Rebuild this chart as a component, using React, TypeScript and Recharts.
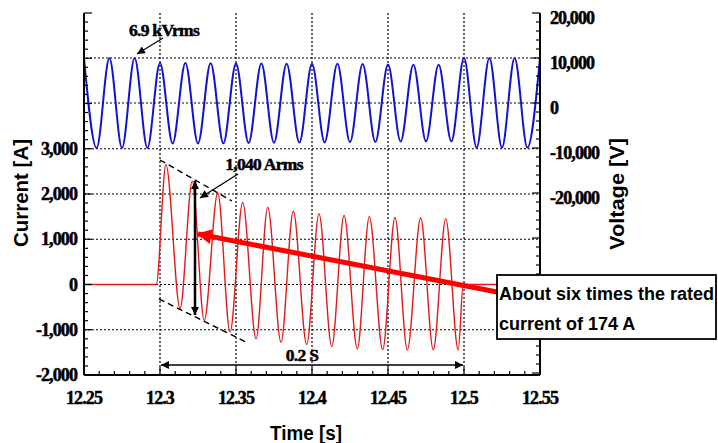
import React from 'react';
import { LineChart, Line, XAxis, YAxis, ReferenceLine } from 'recharts';

// peaks / troughs of each cycle
const voltageTime = [
  12.25, 12.2583, 12.2667, 12.275, 12.2833, 12.2917, 12.3, 12.3083, 12.3167, 12.325,
  12.3333, 12.3417, 12.35, 12.3583, 12.3667, 12.375, 12.3833, 12.3917, 12.4, 12.4083,
  12.4167, 12.425, 12.4333, 12.4417, 12.45, 12.4583, 12.4667, 12.475, 12.4833, 12.4917,
  12.5, 12.5083, 12.5167, 12.525, 12.5333, 12.5417, 12.55,
];
const voltageValue = [
  10000, -10000, 10000, -10000, 10000, -10000, 8900, -9000, 8900, -9000,
  8850, -8950, 8800, -8900, 8800, -8850, 8750, -8800, 8700, -8750,
  8700, -8700, 8650, -8650, 8550, -8550, 8500, -8500, 8500, -8500,
  10000, -9900, 10000, -9900, 10000, -9900, 10000,
];

const currentTime = [
  12.25, 12.2975, 12.3039, 12.3132, 12.3212, 12.3291, 12.338, 12.3461, 12.3544, 12.3632,
  12.3709, 12.3796, 12.3877, 12.3965, 12.4046, 12.413, 12.4211, 12.4298, 12.4377, 12.4465,
  12.4546, 12.4627, 12.4715, 12.4798, 12.488, 12.4962, 12.4995, 12.55,
];
const currentValue = [
  0, 0, 2650, -530, 2280, -795, 2025, -1050, 1815, -1200,
  1705, -1275, 1620, -1325, 1560, -1370, 1525, -1420, 1500, -1440,
  1480, -1445, 1470, -1445, 1450, -1445, 0, 0,
];

const timeTicks = [12.25, 12.3, 12.35, 12.4, 12.45, 12.5, 12.55];
const currentTicks = [-2000, -1000, 0, 1000, 2000, 3000];
const voltageTicks = [-20000, -10000, 0, 10000, 20000];

const voltageData = voltageTime.map((t, k) => ({ t, v: voltageValue[k] }));
const currentData = currentTime.map((t, k) => ({ t, i: currentValue[k] }));

const steps = (from: number, to: number, step: number) => {
  const out: number[] = [];
  for (let v = from; v <= to + step / 2; v += step) out.push(Number(v.toFixed(4)));
  return out;
};
const xMinor = steps(12.25, 12.55, 0.01);
const iMinor = steps(-2000, 6000, 200);
const vMinor = steps(-60000, 20000, 2000);

const serif = '"Liberation Serif", "Times New Roman", serif';
const sans = '"Liberation Sans", Arial, sans-serif';
const near = (a: number, b: number) => Math.abs(a - b) < 1e-6;

const tickText = {
  fontFamily: serif,
  fontWeight: 700,
  fontSize: 18,
  letterSpacing: -0.9,
  fill: '#000',
  stroke: '#000',
  strokeWidth: 0.5,
};

const BottomTick = (p: any) => {
  const { x, y, payload } = p;
  const major = timeTicks.some((t) => near(t, payload.value));
  return (
    <g>
      <line x1={x} x2={x} y1={y} y2={y - (major ? 8 : 4)} stroke="#000" strokeWidth={1.2} />
      {major && (
        <text x={x} y={y + 29} textAnchor="middle" style={tickText}>
          {String(Number(payload.value.toFixed(2)))}
        </text>
      )}
    </g>
  );
};

const TopTick = (p: any) => {
  const { x, y, payload } = p;
  const major = timeTicks.some((t) => near(t, payload.value));
  return <line x1={x} x2={x} y1={y} y2={y + (major ? 8 : 4)} stroke="#000" strokeWidth={1.2} />;
};

const LeftTick = (p: any) => {
  const { x, y, payload } = p;
  const major = payload.value % 1000 === 0;
  const label = currentTicks.includes(payload.value);
  return (
    <g>
      <line x1={x} x2={x + (major ? 8 : 4)} y1={y} y2={y} stroke="#000" strokeWidth={1.2} />
      {label && (
        <text x={x - 7} y={y + 6} textAnchor="end" style={tickText}>
          {payload.value.toLocaleString('en-US')}
        </text>
      )}
    </g>
  );
};

const RightTick = (p: any) => {
  const { x, y, payload } = p;
  const major = payload.value % 10000 === 0;
  const label = voltageTicks.includes(payload.value);
  return (
    <g>
      <line x1={x} x2={x - (major ? 8 : 4)} y1={y} y2={y} stroke="#000" strokeWidth={1.2} />
      {label && (
        <text x={x + 10} y={y + 10.5} textAnchor="start" style={tickText}>
          {payload.value.toLocaleString('en-US')}
        </text>
      )}
    </g>
  );
};

const frame = { stroke: '#000', strokeWidth: 2 };
const gridTimes = [12.3, 12.35, 12.4, 12.45, 12.5];
const gridCurrent = [3000, 2000, 1000, 0, -1000];
const gridVoltage = [10000, 0];

const noteText = { ...tickText, fontSize: 17.5, letterSpacing: -0.7 };
const boxText = { fontFamily: sans, fontWeight: 700, fontSize: 18 };

const Notes = () => (
  <svg
    width={718}
    height={443}
    style={{ position: 'absolute', left: 0, top: 0, pointerEvents: 'none' }}
  >
    <defs>
      <marker id="blk" viewBox="0 0 10 10" refX="10" refY="5" markerUnits="userSpaceOnUse"
        markerWidth="9" markerHeight="8" orient="auto-start-reverse">
        <path d="M0,0 L10,5 L0,10 z" fill="#000" />
      </marker>
      <marker id="red" viewBox="0 0 10 10" refX="9" refY="5" markerUnits="userSpaceOnUse"
        markerWidth="17" markerHeight="15" orient="auto">
        <path d="M0,0 L10,5 L0,10 z" fill="#ff0000" />
      </marker>
    </defs>

    {/* envelope */}
    <line x1={160} y1={160} x2={232} y2={201} stroke="#000" strokeWidth={1.4} strokeDasharray="6 4" />
    <line x1={159} y1={299} x2={248} y2={343} stroke="#000" strokeWidth={1.4} strokeDasharray="6 4" />

    {/* peak-to-peak arrow */}
    <line x1={195} y1={181} x2={195} y2={315} stroke="#000" strokeWidth={2.5}
      markerStart="url(#blk)" markerEnd="url(#blk)" />

    <text x={164} y={36} textAnchor="middle" style={noteText}>6.9 kVrms</text>
    <line x1={163} y1={38} x2={137} y2={54} stroke="#000" strokeWidth={1.3} markerEnd="url(#blk)" />

    <text x={264} y={170} textAnchor="middle" style={noteText}>1,040 Arms</text>
    <line x1={238} y1={174} x2={200} y2={198} stroke="#000" strokeWidth={1.3} markerEnd="url(#blk)" />

    <text x={302} y={361} textAnchor="middle" style={noteText}>0.2 S</text>
    <line x1={161} y1={365} x2={463} y2={365} stroke="#000" strokeWidth={1.4}
      markerStart="url(#blk)" markerEnd="url(#blk)" />

    {/* red pointer */}
    <line x1={497} y1={292} x2={198} y2={234} stroke="#ff0000" strokeWidth={5} markerEnd="url(#red)" />

    <rect x={497} y={275} width={219} height={64} fill="#fff" stroke="#000" strokeWidth={1.8} />
    <text x={499} y={300} style={boxText}>About six times the rated</text>
    <text x={499} y={330} style={boxText}>current of 174 A</text>

    {/* axis titles */}
    <text x={306} y={440} textAnchor="middle" textLength={72} lengthAdjust="spacingAndGlyphs"
      style={{ fontFamily: sans, fontWeight: 700, fontSize: 20 }}>Time [s]</text>
    <text transform="translate(28,193) rotate(-90)" textAnchor="middle" textLength={108}
      lengthAdjust="spacingAndGlyphs" style={{ fontFamily: sans, fontWeight: 700, fontSize: 20 }}>
      Current [A]
    </text>
    <text transform="translate(624,194) rotate(-90)" textAnchor="middle" textLength={112}
      lengthAdjust="spacingAndGlyphs" style={{ fontFamily: sans, fontWeight: 700, fontSize: 20 }}>
      Voltage [V]
    </text>
  </svg>
);

export default function App() {
  return (
    <div style={{ position: 'absolute', left: 0, top: 0, width: 718, height: 443, background: '#fff' }}>
      <LineChart width={718} height={443} margin={{ top: 13, right: 118, bottom: 38, left: 24 }}>
        <XAxis xAxisId="b" dataKey="t" type="number" domain={[12.25, 12.55]} ticks={xMinor}
          interval={0} tick={BottomTick} tickLine={false} tickSize={0} tickMargin={0}
          axisLine={frame} height={30} allowDataOverflow />
        <XAxis xAxisId="top" orientation="top" dataKey="t" type="number" domain={[12.25, 12.55]}
          ticks={xMinor} interval={0} tick={TopTick} tickLine={false} tickSize={0} tickMargin={0}
          axisLine={frame} height={0} allowDataOverflow />
        <YAxis yAxisId="i" orientation="left" type="number" domain={[-2000, 6000]} ticks={iMinor}
          interval={0} tick={LeftTick} tickLine={false} tickSize={0} tickMargin={0}
          axisLine={frame} width={60} allowDataOverflow />
        <YAxis yAxisId="v" orientation="right" type="number" domain={[-60444, 20000]} ticks={vMinor}
          interval={0} tick={RightTick} tickLine={false} tickSize={0} tickMargin={0}
          axisLine={frame} width={60} allowDataOverflow />

        {gridTimes.map((t) => (
          <ReferenceLine key={`gx${t}`} x={t} xAxisId="b" yAxisId="i" stroke="#000"
            strokeWidth={1.2} strokeDasharray="2 2" />
        ))}
        {gridCurrent.map((v) => (
          <ReferenceLine key={`gi${v}`} y={v} xAxisId="b" yAxisId="i" stroke="#000"
            strokeWidth={1.2} strokeDasharray="2 2" />
        ))}
        {gridVoltage.map((v) => (
          <ReferenceLine key={`gv${v}`} y={v} xAxisId="b" yAxisId="v" stroke="#000"
            strokeWidth={1.2} strokeDasharray="2 2" />
        ))}

        <Line xAxisId="b" yAxisId="v" data={voltageData} dataKey="v" type="monotone"
          stroke="#1212cf" strokeWidth={2} dot={false} isAnimationActive={false} />
        <Line xAxisId="b" yAxisId="i" data={currentData} dataKey="i" type="monotone"
          stroke="#e21b1b" strokeWidth={1.4} dot={false} isAnimationActive={false} />
      </LineChart>
      <Notes />
    </div>
  );
}
